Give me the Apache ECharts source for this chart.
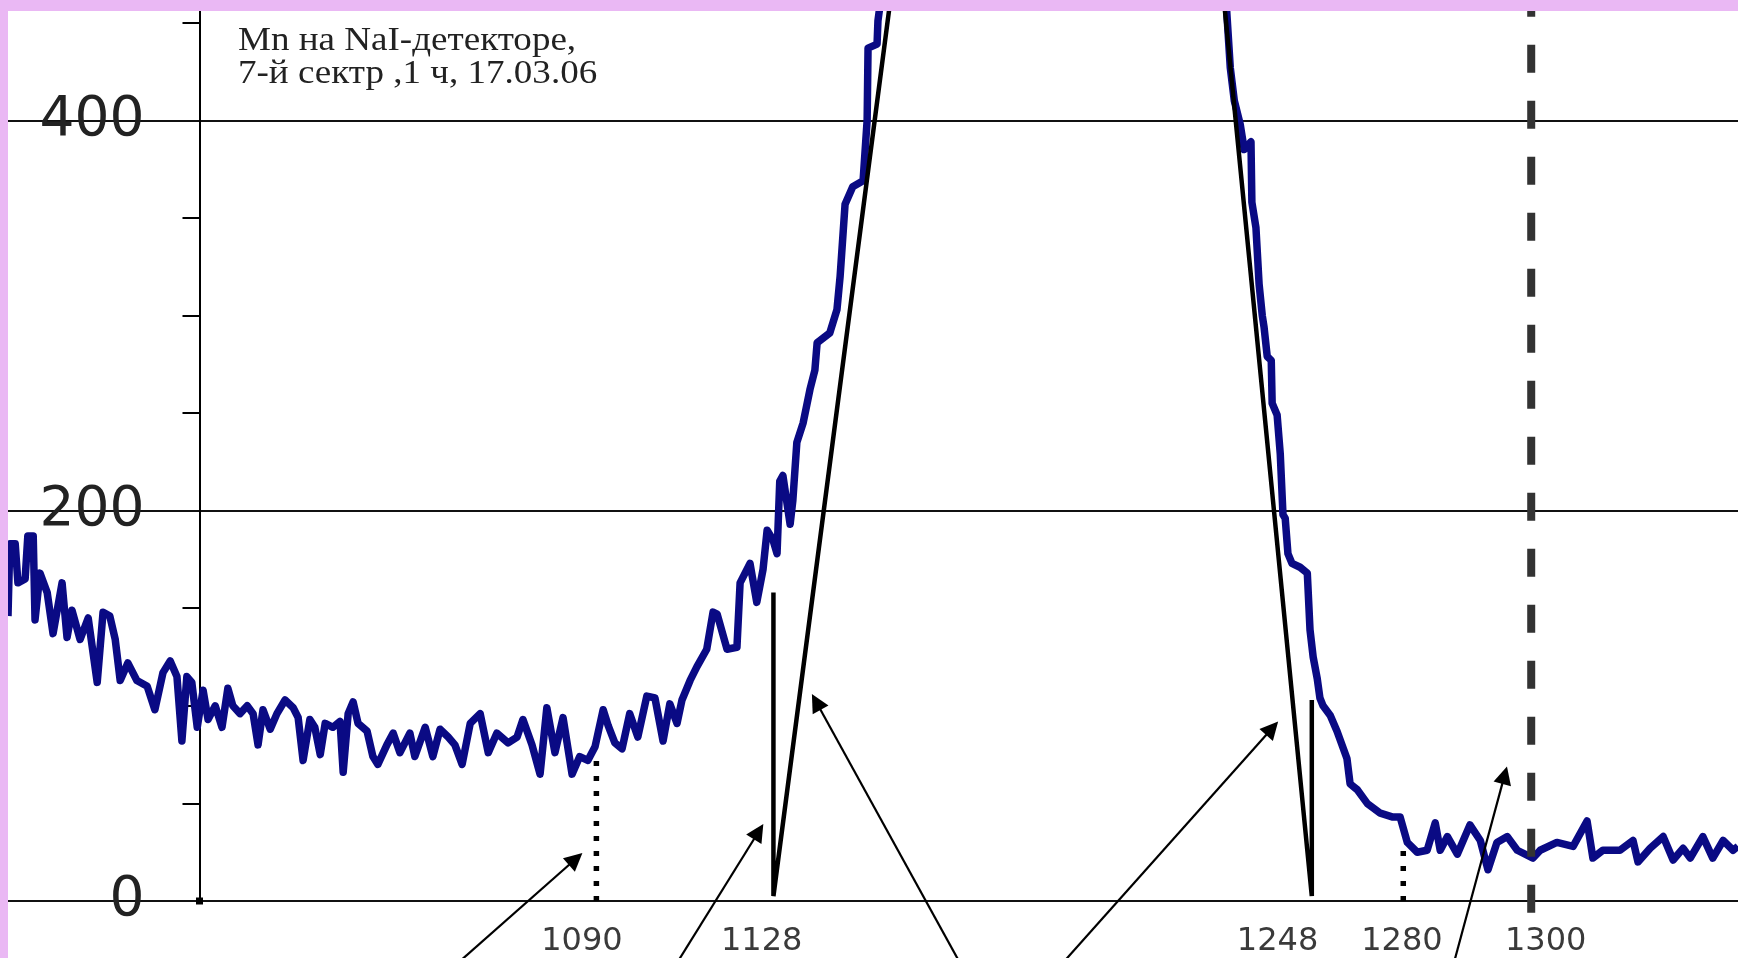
<!DOCTYPE html>
<html>
<head>
<meta charset="utf-8">
<script src="https://cdn.jsdelivr.net/npm/echarts@6/dist/echarts.min.js"></script>
<style>
  html, body { margin: 0; padding: 0; background: #eab8f4; }
  #eChart { position: absolute; left: 8px; top: 11px; width: 1730px; height: 947px; background: #fff; }
</style>
</head>
<body>
<div id="eChart"></div>
<script>
// spectrum: channel number and counts
const channels = [
  960.0, 960.4, 961.6, 962.2, 963.8, 964.4, 965.6, 966.0, 967.1, 968.7,
  970.0, 972.0, 973.1, 974.2, 976.0, 977.8, 979.8, 981.1, 982.6, 983.8,
  984.9, 986.6, 988.6, 990.9, 992.6, 994.4, 996.0, 997.5, 998.6, 999.7,
  1000.8, 1002.0, 1003.3, 1004.4, 1006.0, 1007.5, 1008.8, 1009.9, 1011.5, 1013.1,
  1014.4, 1015.5, 1016.6, 1018.2, 1019.7, 1021.5, 1023.3, 1024.4, 1025.5, 1027.0,
  1028.1, 1029.3, 1030.4, 1032.1, 1033.7, 1034.4, 1035.5, 1036.6, 1037.7, 1039.7,
  1041.0, 1042.1, 1044.1, 1045.5, 1047.0, 1049.2, 1050.3, 1052.6, 1054.3, 1055.9,
  1057.7, 1059.2, 1060.8, 1062.6, 1064.8, 1066.6, 1068.5, 1071.0, 1073.0, 1074.3,
  1076.3, 1078.1, 1079.6, 1081.4, 1083.2, 1085.2, 1086.9, 1088.7, 1090.3, 1092.1,
  1093.2, 1094.7, 1096.3, 1098.0, 1099.8, 1101.8, 1103.6, 1105.4, 1106.9, 1108.5,
  1109.6, 1111.4, 1112.9, 1115.1, 1116.5, 1117.4, 1119.6, 1121.8, 1122.5, 1124.7,
  1126.2, 1127.6, 1128.5, 1129.8, 1130.7, 1131.3, 1132.0, 1133.6, 1134.2, 1135.1,
  1136.5, 1138.0, 1139.1, 1139.6, 1142.4, 1144.0, 1144.7, 1145.8, 1147.5, 1149.8,
  1150.7, 1150.9, 1152.9, 1153.1, 1154.2,
  1157, 1162, 1170, 1180, 1192, 1205, 1215, 1223, 1228,
  1230.4, 1231.3, 1232.2, 1233.5, 1234.4, 1235.9, 1236.1, 1237.0, 1237.7, 1238.4,
  1238.8, 1239.5, 1240.4, 1240.6, 1241.7, 1242.4, 1243.0, 1243.5, 1244.1, 1245.0,
  1246.8, 1248.4, 1249.0, 1249.7, 1250.6, 1251.2, 1251.9, 1253.5, 1255.0, 1257.2,
  1257.9, 1259.5, 1261.7, 1264.6, 1267.4, 1269.0, 1270.6, 1272.8, 1275.0, 1276.8,
  1277.9, 1279.5, 1281.7, 1284.5, 1286.8, 1288.5, 1290.5, 1292.8, 1295.0, 1298.5,
  1300.1, 1303.8, 1307.4, 1310.5, 1311.8, 1314.0, 1317.8, 1320.7, 1321.8, 1324.5,
  1327.4, 1329.6, 1331.8, 1333.4, 1336.2, 1338.4, 1340.7, 1342.9, 1344.0
];
const counts = [
  146, 183, 183, 163, 165, 187, 187, 144, 168, 158,
  137, 163, 135, 149, 134, 145, 112, 148, 146, 134,
  113, 122, 113, 110, 98, 117, 123, 115, 82, 115,
  112, 89, 108, 93, 100, 89, 109, 100, 96, 100,
  96, 80, 98, 88, 96, 103, 99, 94, 72, 93,
  89, 75, 91, 89, 92, 66, 96, 102, 91, 87,
  74, 70, 80, 86, 76, 86, 74, 89, 74, 88,
  84, 80, 70, 91, 96, 76, 86, 81, 84, 93,
  80, 65, 99, 76, 94, 65, 74, 72, 79, 98,
  90, 81, 78, 96, 84, 105, 104, 82, 101, 91,
  103, 113, 120, 129, 148, 147, 129, 130, 163, 173,
  153, 170, 190, 185, 178, 215, 218, 193, 205, 235,
  245, 262, 272, 286, 291, 303, 320, 357, 366, 369,
  400, 437, 439, 451, 470,
  540, 640, 780, 880, 930, 880, 760, 620, 510,
  460, 427, 410, 398, 385, 389, 358, 345, 316, 300,
  294, 279, 277, 255, 249, 229, 198, 196, 178, 173,
  171, 168, 139, 125, 114, 104, 100, 95, 87, 73,
  60, 57, 50, 45, 43, 43, 30, 25, 26, 40,
  26, 33, 24, 39, 31, 16, 30, 33, 26, 22,
  26, 30, 28, 41, 22, 26, 26, 31, 20, 27,
  33, 21, 27, 22, 33, 22, 31, 26, 28
];

// straight black lines marking the peak edges
const leftEdgeX = [1129.9, 1129.9, 1156.9];
const leftEdgeY = [158, 2.5, 480];
const rightEdgeX = [1229.1, 1249.4, 1249.4];
const rightEdgeY = [480, 2.5, 103];

// vertical marker lines
const dot1090X = 1090.6, dot1090Top = 72;
const dot1280X = 1269.7, dot1280Top = 26;
const dash1300X = 1298.1, dash1300Range = [-6, 460];

// bottom labels (drawn where they sit in the picture)
const labelPos = [1087.4, 1127.3, 1241.8, 1269.4, 1301.3];
const labelText = ["1090", "1128", "1248", "1280", "1300"];

// arrows: tail -> tip
const arrowTails = [[1056.8, -38], [1106.8, -38], [1172.8, -38], [1191.7, -38], [1280.2, -38]];
const arrowTips = [[1086.0, 21.5], [1126.6, 35.5], [1139.4, 102], [1240.6, 88.5], [1292.2, 64.5]];

const yLabels = [0, 200, 400];
const yMinorTicks = [50, 100, 150, 250, 300, 350, 450];

const zip = (xs, ys) => xs.map((x, i) => [x, ys[i]]);

const myChart = echarts.init(document.getElementById("eChart"), null, { renderer: "canvas" });

const axisOffset = -191.5;

const option = {
  animation: false,
  grid: { left: 0, right: 0, top: 0, bottom: 57, containLabel: false, outerBoundsMode: "none" },
  xAxis: {
    type: "value",
    min: 960,
    max: 1344,
    axisLine: { show: false },
    axisTick: { show: false },
    splitLine: { show: false },
    axisLabel: {
      customValues: labelPos,
      formatter: (v) => {
        const i = labelPos.findIndex((p) => Math.abs(p - v) < 0.01);
        return i >= 0 ? labelText[i] : "";
      },
      fontFamily: "DejaVu Sans",
      fontSize: 32,
      color: "#3a3a3a",
      margin: 25,
    },
  },
  yAxis: [
    {
      type: "value",
      position: "left",
      offset: axisOffset,
      min: 0,
      max: 456,
      interval: 200,
      axisLine: {
        show: true,
        onZero: false,
        symbol: ["rect", "none"],
        symbolSize: [7, 7],
        lineStyle: { color: "#000", width: 2 },
      },
      axisTick: { show: false },
      splitLine: { show: true, showMaxLine: false, lineStyle: { color: "#111", width: 2 } },
      axisLabel: {
        customValues: yLabels,
        fontFamily: "DejaVu Sans",
        fontSize: 55,
        color: "#222",
        margin: 55,
      },
    },
    {
      type: "value",
      position: "left",
      offset: axisOffset,
      min: 0,
      max: 456,
      interval: 50,
      axisLine: { show: false },
      axisLabel: { show: false },
      splitLine: { show: false },
      axisTick: {
        show: true,
        customValues: yMinorTicks,
        length: 17,
        lineStyle: { color: "#000", width: 2 },
      },
    },
  ],
  graphic: [
    {
      type: "text",
      left: 230,
      top: 13,
      scaleX: 1.09,
      style: {
        text: "Mn на NaI-детекторе,\n7-й сектр ,1 ч, 17.03.06",
        font: '34px "Liberation Serif"',
        lineHeight: 33,
        fill: "#222",
      },
    },
  ],
  series: [
    {
      name: "spectrum",
      type: "line",
      data: zip(channels, counts),
      showSymbol: false,
      symbol: "none",
      lineStyle: { color: "#0a0a84", width: 7.5, join: "round" },
      z: 2,
    },
    {
      name: "left edge",
      type: "line",
      data: zip(leftEdgeX, leftEdgeY),
      symbol: "none",
      lineStyle: { color: "#000", width: 4.5 },
      z: 3,
    },
    {
      name: "right edge",
      type: "line",
      data: zip(rightEdgeX, rightEdgeY),
      symbol: "none",
      lineStyle: { color: "#000", width: 4.5 },
      z: 3,
    },
    {
      name: "1090",
      type: "line",
      data: [[dot1090X, 0], [dot1090X, dot1090Top]],
      symbol: "none",
      clip: false,
      lineStyle: { color: "#000", width: 5.5, type: [5, 10] },
      z: 3,
    },
    {
      name: "1280",
      type: "line",
      data: [[dot1280X, 0], [dot1280X, dot1280Top]],
      symbol: "none",
      clip: false,
      lineStyle: { color: "#000", width: 5.5, type: [5, 10] },
      z: 3,
    },
    {
      name: "1300",
      type: "line",
      data: [[dash1300X, dash1300Range[0]], [dash1300X, dash1300Range[1]]],
      symbol: "none",
      clip: false,
      lineStyle: { color: "#333", width: 8, type: [28, 28] },
      z: 4,
    },
    {
      name: "arrows",
      type: "lines",
      coordinateSystem: "cartesian2d",
      clip: false,
      symbol: ["none", "triangle"],
      symbolSize: [0, 18],
      lineStyle: { color: "#000", width: 2.2, opacity: 1 },
      data: arrowTails.map((t, i) => ({ coords: [t, arrowTips[i]] })),
      z: 5,
    },
  ],
};

myChart.setOption(option);
</script>
</body>
</html>
